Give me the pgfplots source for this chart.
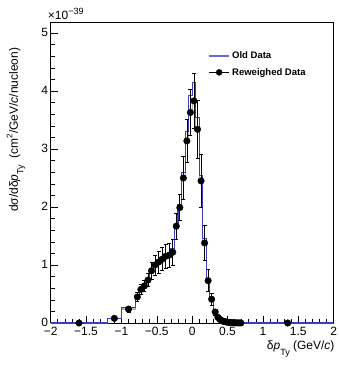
\documentclass[border=0pt]{standalone}
\usepackage{pgfplots}
\pgfplotsset{compat=1.18}
\usepackage{pgfplotstable}
\usepackage{fontspec}
\setmainfont{Liberation Sans}
\definecolor{olddata}{RGB}{60,60,200}
\definecolor{oldleg}{RGB}{105,105,215}

\pgfplotstableread{
x y
-2.0 0
-1.2 0.08
-1.0 0.26
-0.80 0.47
-0.75 0.60
-0.70 0.68
-0.65 0.78
-0.60 0.92
-0.55 1.02
-0.50 1.08
-0.45 1.12
-0.40 1.17
-0.35 1.20
-0.30 1.28
-0.25 1.70
-0.20 2.05
-0.15 2.60
-0.10 3.30
-0.05 3.92
0.00 4.14
0.05 3.55
0.10 2.55
0.15 1.45
0.20 0.76
0.25 0.42
0.30 0.20
0.350 0.12
0.375 0.075
0.400 0.050
0.425 0.035
0.450 0.025
0.475 0.018
0.500 0.013
0.525 0.010
0.550 0.007
0.575 0.005
0.600 0.004
0.625 0.003
0.650 0.002
0.675 0.001
0.700 0
2.000 0
}\olddata

\pgfplotstableread{
x y
-2.0 0
-1.2 0.08
-1.0 0.24
-0.80 0.45
-0.75 0.58
-0.70 0.64
-0.65 0.74
-0.60 0.90
-0.55 1.00
-0.50 1.05
-0.45 1.10
-0.40 1.15
-0.35 1.17
-0.30 1.22
-0.25 1.67
-0.20 1.99
-0.15 2.50
-0.10 3.14
-0.05 3.63
0.00 3.83
0.05 3.34
0.10 2.45
0.15 1.38
0.20 0.73
0.25 0.41
0.30 0.19
0.350 0.10
0.375 0.065
0.400 0.045
0.425 0.030
0.450 0.022
0.475 0.016
0.500 0.012
0.525 0.009
0.550 0.006
0.575 0.004
0.600 0.003
0.625 0.002
0.650 0.0015
0.675 0.001
0.700 0
2.000 0
}\newhist

\pgfplotstableread{
x y e
-1.6 0 0
-1.1 0.08 0.03
-0.9 0.24 0.05
-0.775 0.45 0.07
-0.725 0.58 0.08
-0.675 0.64 0.10
-0.625 0.74 0.11
-0.575 0.90 0.14
-0.525 1.00 0.17
-0.475 1.05 0.19
-0.425 1.10 0.20
-0.375 1.15 0.20
-0.325 1.17 0.21
-0.275 1.22 0.22
-0.225 1.67 0.22
-0.175 1.99 0.22
-0.125 2.50 0.37
-0.075 3.14 0.37
-0.025 3.63 0.40
0.025 3.83 0.48
0.075 3.34 0.50
0.125 2.45 0.45
0.175 1.38 0.30
0.225 0.73 0.19
0.275 0.41 0.10
0.325 0.19 0.05
0.3625 0.10 0.03
0.3875 0.065 0.02
0.4125 0.045 0.015
0.4375 0.030 0.01
0.4625 0.022 0.008
0.4875 0.016 0.006
0.5125 0.012 0.005
0.5375 0.009 0.004
0.5625 0.006 0.003
0.5875 0.004 0.002
0.6125 0.003 0.002
0.6375 0.002 0.001
0.6625 0.0015 0.001
0.6875 0.001 0.001
1.35 0 0
}\dots

\begin{document}
\begin{tikzpicture}
\path[use as bounding box] (-50.7pt,-42pt) rectangle (288.3pt,323pt);
\begin{axis}[
  at={(0,0)}, anchor=south west,
  scale only axis, width=283pt, height=301pt,
  xmin=-2, xmax=2, ymin=0, ymax=5.19,
  axis line style={line width=0.8pt},
  axis x line*=bottom, axis y line*=left,
  clip=false,
  xtick={-2,-1.5,-1,-0.5,0,0.5,1,1.5,2},
  xticklabels={−2,−1.5,−1,−0.5,0,0.5,1,1.5,2},
  ytick={0,1,2,3,4,5},
  yticklabels={0,1,2,3,4,5},
  minor x tick num=4, minor y tick num=4,
  tick align=inside,
  major tick length=7pt, minor tick length=4pt,
  tick style={black, line width=0.6pt},
  x tick label style={font=\fontsize{12}{14}\selectfont, yshift=-1pt},
  y tick label style={font=\fontsize{12}{14}\selectfont, xshift=1pt, yshift=1pt},
  legend style={draw=none, fill=none, at={(0.545,0.915)}, anchor=north west,
    font=\fontsize{9.5}{11}\selectfont\bfseries, row sep=4pt,
    legend cell align=left},
]
\addplot[const plot, gray!60, line width=1.2pt, forget plot] table[x=x,y=y] {\newhist};
\addplot[const plot, olddata, line width=1.1pt, mark=none,
  /pgfplots/legend image code/.code={\draw[oldleg, line width=1.6pt] (0cm,0cm) -- (0.72cm,0cm);}]
  table[x=x,y=y] {\olddata};
\addlegendentry{Old Data}
\addplot[only marks, black, mark=*, mark size=3.3pt,
  error bars/.cd, y dir=both, y explicit, error mark=|,
  error bar style={black, line width=0.7pt},
  error mark options={black, mark size=2pt, line width=0.7pt},
  /pgfplots/legend image code/.code={\draw[black, line width=0.7pt] (0cm,0cm) -- (0.72cm,0cm); \fill[black] (0.36cm,0cm) circle (3pt);}]
  table[x=x,y=y,y error=e] {\dots};
\addlegendentry{Reweighed Data}
\node[anchor=south west, inner sep=0pt, font=\fontsize{12}{14}\selectfont] at (rel axis cs:0,1) [xshift=-3pt, yshift=2pt] {×10\raisebox{0.45em}{\fontsize{9}{10}\selectfont −39}};
\node[anchor=east, inner sep=0pt, font=\fontsize{12}{14}\selectfont] at (rel axis cs:1,0) [yshift=-26pt, xshift=1pt] {δ\textit{p}\raisebox{-0.45em}{\fontsize{9}{10}\selectfont Ty}\ (GeV/\textit{c})};
\node[anchor=east, rotate=90, inner sep=0pt, font=\fontsize{12}{14}\selectfont] at ([xshift=-34.7pt]rel axis cs:0,0.915) {dσ/dδ\textit{p}\raisebox{-0.45em}{\fontsize{9}{10}\selectfont Ty}\ \ (cm\raisebox{0.45em}{\fontsize{8}{9}\selectfont 2}/GeV/\textit{c}/nucleon)};
\end{axis}
\draw[line width=0.8pt] (0,301pt) -- (283pt,301pt) -- (283pt,0);
\end{tikzpicture}
\end{document}
